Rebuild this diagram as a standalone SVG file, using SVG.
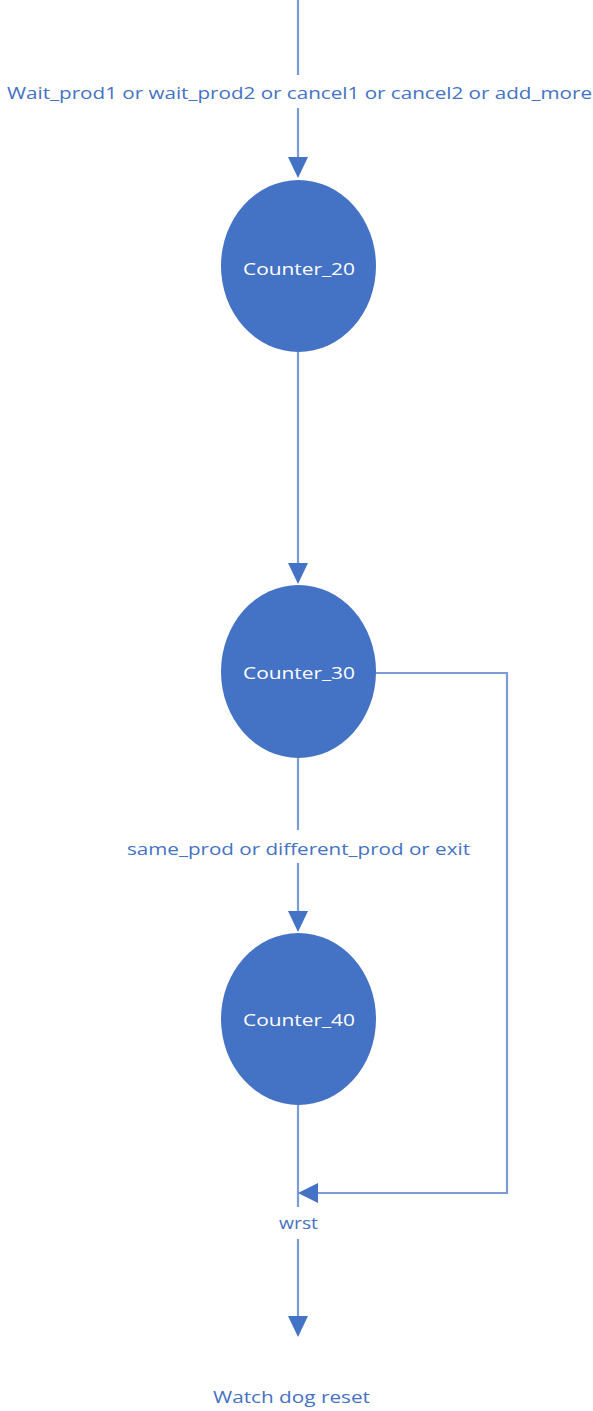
<svg xmlns="http://www.w3.org/2000/svg" width="593" height="1411" viewBox="0 0 593 1411">
<style>
.node{fill:#4472C4}
.edge{stroke:#4472C4;stroke-width:2.2;fill:none;stroke-opacity:0.7}
.head{fill:#4472C4}
.lbl{font-family:"Open Sans","Noto Sans",sans-serif;font-size:17px;fill:#4472C4;text-anchor:middle;dominant-baseline:central}
.ntxt{font-family:"Open Sans","Noto Sans",sans-serif;font-size:17px;fill:#ffffff;text-anchor:middle;dominant-baseline:central}
</style>
<rect width="593" height="1411" fill="#ffffff"/>
<g id="connectors">
  <line class="edge" x1="298" y1="0" x2="298" y2="75"/>
  <line class="edge" x1="298" y1="108" x2="298" y2="160"/>
  <polygon class="head" points="288,157 308,157 298,178"/>
  <line class="edge" x1="298" y1="352" x2="298" y2="565"/>
  <polygon class="head" points="288,563 308,563 298,584"/>
  <line class="edge" x1="298" y1="758" x2="298" y2="830"/>
  <line class="edge" x1="298" y1="863" x2="298" y2="913"/>
  <polygon class="head" points="288,911 308,911 298,932"/>
  <polyline class="edge" points="376,673 507,673 507,1193 315,1193"/>
  <polygon class="head" points="318,1183 318,1203 298,1193"/>
  <line class="edge" x1="298" y1="1105" x2="298" y2="1207"/>
  <line class="edge" x1="298" y1="1239" x2="298" y2="1318"/>
  <polygon class="head" points="288,1316 308,1316 298,1337"/>
  <text class="lbl" x="299.5" y="92" textLength="585" lengthAdjust="spacingAndGlyphs">Wait_prod1 or wait_prod2 or cancel1 or cancel2 or add_more</text>
  <text class="lbl" x="298.5" y="848" textLength="343" lengthAdjust="spacingAndGlyphs">same_prod or different_prod or exit</text>
  <text class="lbl" x="298.5" y="1222" textLength="39" lengthAdjust="spacingAndGlyphs">wrst</text>
</g>
<g id="counter20">
  <ellipse class="node" cx="298.5" cy="266" rx="77.5" ry="86"/>
  <text class="ntxt" x="299" y="268" textLength="112" lengthAdjust="spacingAndGlyphs">Counter_20</text>
</g>
<g id="counter30">
  <ellipse class="node" cx="298.5" cy="671.5" rx="77.5" ry="86.5"/>
  <text class="ntxt" x="299" y="672" textLength="112" lengthAdjust="spacingAndGlyphs">Counter_30</text>
</g>
<g id="counter40">
  <ellipse class="node" cx="298.5" cy="1019" rx="77.5" ry="86"/>
  <text class="ntxt" x="299" y="1019" textLength="112" lengthAdjust="spacingAndGlyphs">Counter_40</text>
</g>
<g id="watchdog">
  <text class="lbl" x="291.5" y="1396" textLength="157" lengthAdjust="spacingAndGlyphs">Watch dog reset</text>
</g>
</svg>
